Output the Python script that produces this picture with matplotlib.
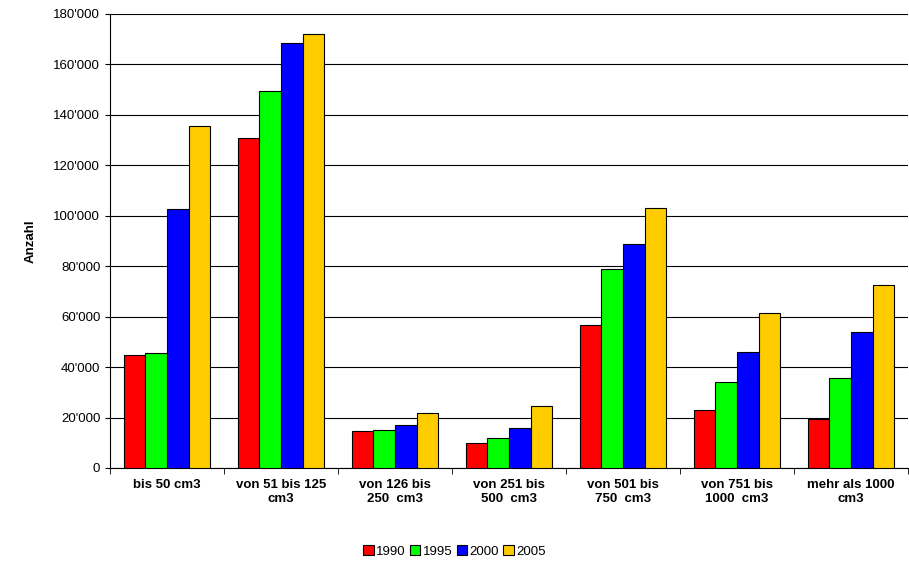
import matplotlib
matplotlib.use("Agg")
import matplotlib.pyplot as plt
import numpy as np
from matplotlib.ticker import FuncFormatter

plt.rcParams['font.family'] = ['Liberation Sans', 'DejaVu Sans']

categories = ["bis 50 cm3", "von 51 bis 125\ncm3", "von 126 bis\n250  cm3", "von 251 bis\n500  cm3",
              "von 501 bis\n750  cm3", "von 751 bis\n1000  cm3", "mehr als 1000\ncm3"]
years = ["1990", "1995", "2000", "2005"]
v1990 = [45000, 131000, 14500, 10000, 56500, 23000, 19500]
v1995 = [45500, 149500, 15000, 12000, 79000, 34000, 35500]
v2000 = [102700, 168500, 17000, 16000, 89000, 46000, 54000]
v2005 = [135600, 172000, 22000, 24500, 103000, 61500, 72500]
colors = ["#ff0000", "#00ff00", "#0000ff", "#ffcc00"]

fig = plt.figure(figsize=(9.09, 5.63), dpi=100)
ax = fig.add_axes([110/909, 1-468/563, 798/909, 454/563])
x = np.arange(len(categories))
w = 0.19
for i, (vals, c, lab) in enumerate(zip([v1990, v1995, v2000, v2005], colors, years)):
    ax.bar(x + (i - 1.5) * w, vals, w, color=c, edgecolor="black", linewidth=0.8, label=lab, zorder=3)

ax.set_xlim(-0.5, len(categories) - 0.5)
ax.set_ylim(0, 180000)
ax.set_yticks(np.arange(0, 180001, 20000))
ax.yaxis.set_major_formatter(FuncFormatter(lambda v, p: "0" if v == 0 else f"{int(v):,}".replace(",", "'")))
ax.grid(axis="y", color="black", linewidth=0.8, zorder=0)
ax.set_xticks(x)
ax.set_xticklabels(categories, fontweight="bold", fontsize=9.5)
ax.set_xticks(np.arange(-0.5, len(categories)), minor=True)
ax.tick_params(axis="x", which="major", length=0, pad=8)
ax.tick_params(axis="x", which="minor", length=4)
ax.tick_params(axis="y", labelsize=9.5)
for s in ["top", "right"]:
    ax.spines[s].set_visible(False)
ax.set_ylabel("Anzahl", fontweight="bold", fontsize=9.5, labelpad=12)
fig.legend(loc="lower center", bbox_to_anchor=(0.5, -0.012), ncol=4, frameon=False,
           fontsize=9.5, handlelength=0.8, handleheight=0.8, handletextpad=0.2, columnspacing=0.3)
fig.savefig("out.png", dpi=100)
